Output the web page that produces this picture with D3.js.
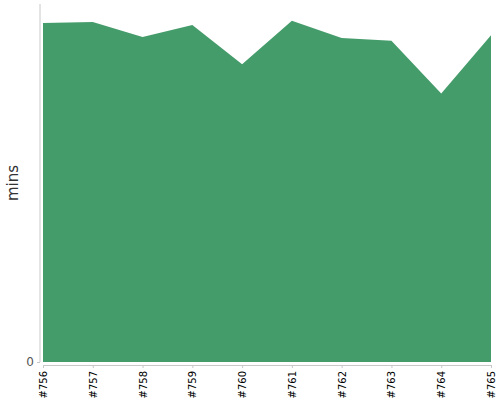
<!DOCTYPE html>
<html><head><meta charset="utf-8">
<script src="https://cdn.jsdelivr.net/npm/d3@7"></script>
<style>body{margin:0;background:#fff}svg{display:block}text{font-family:"DejaVu Sans",Verdana,sans-serif}</style>
</head><body>
<svg id="c" width="500" height="400"></svg>
<script>
const categories = ["#756","#757","#758","#759","#760","#761","#762","#763","#764","#765"];
const minsValues = [94.7, 95.0, 90.8, 94.1, 83.2, 95.3, 90.5, 89.7, 75.0, 91.3];
const yTicks = [0];

const svg = d3.select("#c");
const x = d3.scalePoint().domain(categories).range([43, 491]);
const y = d3.scaleLinear().domain([0, 100]).range([362, 4]);
const data = categories.map((c, i) => ({c, v: minsValues[i]}));

const area = d3.area().x(d => x(d.c)).y0(y(0)).y1(d => y(d.v));
svg.append("path").datum(data).attr("d", area).attr("fill", "#459c6b");

// y axis
const ya = svg.append("g").attr("transform", "translate(40,0)")
  .call(d3.axisLeft(y).tickValues(yTicks).tickSize(3).tickSizeOuter(0));
ya.attr("font-family", null);
ya.select(".domain").attr("stroke", "#c8c8c8").attr("d", `M0,${y(100)}V${y(0)}`);
ya.selectAll(".tick line").attr("stroke", "#c8c8c8");
ya.selectAll(".tick text").attr("fill", "#555").attr("font-size", 12).attr("x", -6);

// x axis
const xa = svg.append("g").attr("transform", "translate(0,365)")
  .call(d3.axisBottom(x).tickSize(3).tickSizeOuter(0));
xa.attr("font-family", null);
xa.select(".domain").attr("stroke", "#c8c8c8");
xa.selectAll(".tick line").attr("stroke", "#c8c8c8");
xa.selectAll(".tick text")
  .attr("fill", "#000").attr("font-size", 10)
  .attr("transform", "rotate(-90)").attr("text-anchor", "end")
  .attr("x", -6).attr("y", 0).attr("dy", "0.35em");

svg.append("text").attr("transform", "translate(18,183) rotate(-90)")
  .attr("text-anchor", "middle")
  .attr("font-size", 15).attr("fill", "#333").text("mins");
</script>
</body></html>
